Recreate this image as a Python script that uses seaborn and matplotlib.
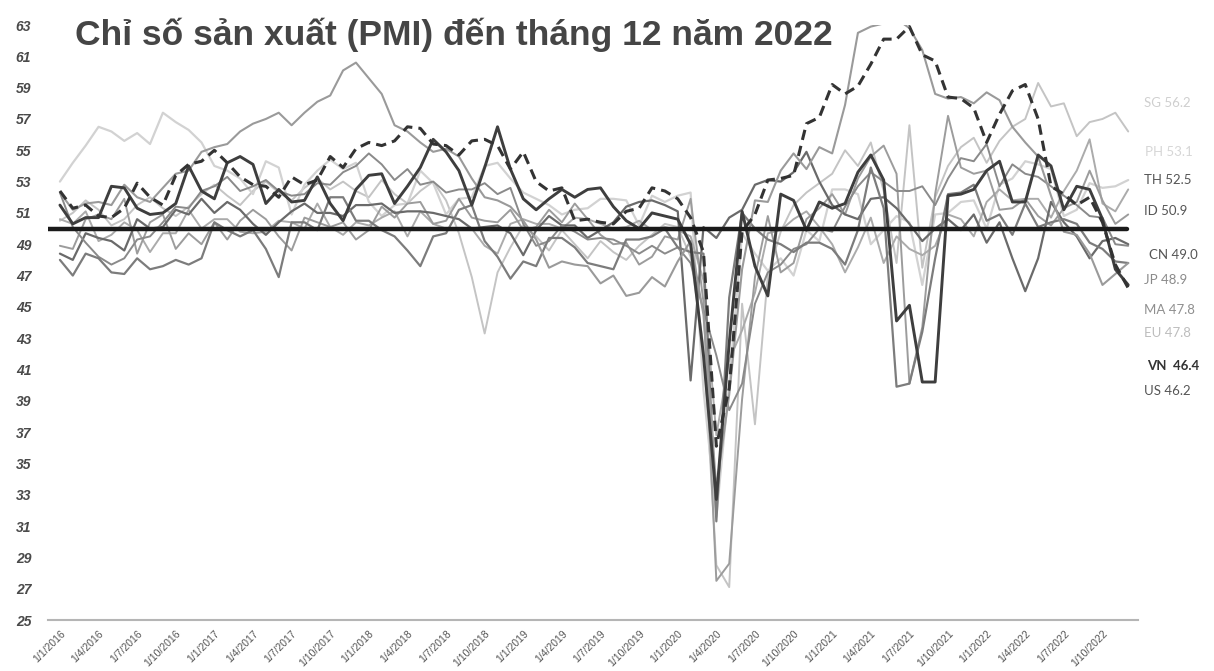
# PMI chart - manufacturing PMI to Dec 2022, monthly 2016-2022
import numpy as np
import pandas as pd
import matplotlib
matplotlib.use("Agg")
import matplotlib.pyplot as plt
import seaborn as sns

sns.set_theme(style="white")
plt.rcParams['font.family'] = ['Liberation Sans', 'DejaVu Sans']

################################################################################
### data (monthly, Jan 2016 .. Dec 2022)
################################################################################
months = pd.date_range("2016-01-01", "2022-12-01", freq="MS")
tick_labels = ["1/%d/%d" % (m, y) for y in range(2016, 2023) for m in (1, 4, 7, 10)]

sg = [50.5, 51.0, 51.8, 51.2, 50.2, 50.6, 51.5, 52.0, 51.3, 50.8, 51.4, 52.2,
      52.8, 52.1, 51.5, 52.4, 53.0, 52.3, 51.8, 52.6, 53.2, 52.5, 53.0, 52.4,
      52.0, 53.1, 52.2, 51.6, 52.4, 53.0, 51.8, 49.7, 46.9, 43.3, 47.2, 48.8,
      50.2, 49.5, 48.6, 49.9, 49.0, 48.1, 49.2, 48.5, 48.0, 48.9, 49.6, 50.3,
      50.1, 48.2, 42.5, 28.5, 27.1, 45.2, 37.5, 47.0, 49.8, 51.5, 52.3, 52.9,
      53.5, 55.0, 54.0, 55.5, 52.4, 47.8, 56.6, 47.5, 52.0, 54.0, 55.2, 55.8,
      54.2, 55.6, 56.5, 57.0, 59.3, 57.8, 58.0, 55.9, 56.8, 57.0, 57.4, 56.2]
ph = [53.0, 54.2, 55.3, 56.5, 56.2, 55.6, 56.1, 55.4, 57.4, 56.8, 56.3, 55.5,
      54.0, 53.7, 53.2, 52.2, 54.3, 53.9, 50.9, 52.8, 53.7, 54.4, 53.8, 54.2,
      51.7, 50.8, 51.5, 51.6, 53.7, 52.9, 50.9, 51.9, 52.0, 54.0, 54.2, 53.2,
      52.3, 51.9, 51.5, 50.9, 51.2, 51.3, 51.9, 51.9, 51.8, 50.2, 52.1, 51.7,
      52.1, 52.3, 39.7, 31.6, 40.1, 49.7, 48.4, 47.3, 48.1, 47.0, 49.9, 49.2,
      52.5, 52.5, 52.2, 49.0, 49.9, 50.8, 50.4, 46.4, 50.9, 51.0, 51.7, 51.8,
      50.0, 52.8, 53.2, 54.3, 54.1, 53.8, 50.8, 51.2, 52.9, 52.6, 52.7, 53.1]
th = [50.6, 50.3, 51.1, 49.2, 49.6, 50.4, 49.9, 48.5, 49.7, 49.7, 51.2, 50.0,
      50.6, 50.6, 49.8, 49.7, 49.8, 50.5, 50.4, 50.0, 51.6, 50.1, 49.6, 50.4,
      50.2, 50.7, 51.1, 49.5, 51.1, 50.3, 50.0, 50.0, 50.0, 48.9, 48.4, 50.3,
      50.6, 50.3, 50.3, 50.0, 50.7, 50.6, 50.3, 50.0, 50.1, 50.5, 49.9, 50.1,
      49.9, 49.5, 46.7, 36.8, 41.6, 43.5, 45.9, 49.7, 49.9, 50.6, 51.1, 50.1,
      49.0, 47.2, 48.8, 50.7, 47.8, 49.5, 48.7, 48.3, 48.9, 50.9, 50.6, 49.5,
      51.7, 52.5, 51.8, 51.9, 51.9, 50.7, 52.4, 53.7, 55.7, 51.6, 51.1, 52.5]
id_ = [48.9, 48.7, 50.6, 50.9, 50.6, 51.9, 48.4, 50.4, 50.9, 48.7, 49.7, 49.0,
       50.4, 49.3, 50.5, 51.2, 50.6, 49.5, 48.6, 50.7, 50.4, 50.1, 50.4, 49.3,
       49.9, 51.4, 50.7, 51.6, 51.7, 50.3, 50.5, 51.9, 50.7, 50.5, 50.4, 51.2,
       49.9, 50.1, 51.2, 50.4, 51.6, 50.6, 49.6, 49.0, 49.1, 47.7, 48.2, 49.5,
       49.3, 51.9, 45.3, 27.5, 28.6, 39.1, 46.9, 50.8, 47.2, 47.8, 50.6, 51.3,
       52.2, 50.9, 53.2, 54.6, 55.3, 53.5, 40.1, 43.7, 52.2, 57.2, 53.9, 53.5,
       53.7, 51.2, 51.3, 51.9, 50.8, 50.2, 51.3, 51.7, 53.7, 51.8, 50.3, 50.9]
cn = [48.4, 48.0, 49.7, 49.4, 49.2, 48.6, 50.6, 50.0, 50.1, 51.2, 50.9, 51.9,
      51.0, 51.7, 51.2, 50.3, 49.6, 50.4, 51.1, 51.6, 51.0, 51.0, 50.8, 51.5,
      51.5, 51.6, 51.0, 51.1, 51.1, 51.0, 50.8, 50.6, 50.0, 50.1, 50.2, 49.7,
      48.3, 49.9, 50.8, 50.2, 50.2, 49.4, 49.9, 50.4, 51.4, 51.7, 51.8, 51.5,
      51.1, 40.3, 50.1, 49.4, 50.7, 51.2, 52.8, 53.1, 53.0, 53.6, 54.9, 53.0,
      51.5, 50.9, 50.6, 51.9, 52.0, 51.3, 50.3, 49.2, 50.0, 50.6, 49.9, 50.9,
      49.1, 50.4, 48.1, 46.0, 48.1, 51.7, 50.4, 49.5, 48.1, 49.2, 49.4, 49.0]
jp = [52.3, 50.1, 49.1, 48.2, 47.7, 48.1, 49.3, 49.5, 50.4, 51.4, 51.3, 52.4,
      52.7, 53.3, 52.4, 52.7, 53.1, 52.4, 52.1, 52.2, 52.9, 52.8, 53.6, 54.0,
      54.8, 54.1, 53.1, 53.8, 52.8, 53.0, 52.3, 52.5, 52.5, 52.9, 52.2, 52.6,
      50.3, 48.9, 49.2, 50.2, 49.8, 49.3, 49.4, 49.3, 48.9, 48.4, 48.9, 48.4,
      48.8, 47.8, 44.8, 41.9, 38.4, 40.1, 45.2, 47.2, 47.7, 48.7, 49.0, 50.0,
      49.8, 51.4, 52.7, 53.6, 53.0, 52.4, 52.4, 52.7, 51.5, 53.2, 54.5, 54.3,
      55.4, 52.7, 54.1, 53.5, 53.3, 52.7, 52.1, 51.5, 50.8, 50.7, 49.0, 48.9]
ma = [48.0, 47.0, 48.4, 48.1, 47.2, 47.1, 48.1, 47.4, 47.6, 48.0, 47.7, 48.1,
      50.4, 49.9, 49.5, 49.9, 48.7, 46.9, 50.4, 50.4, 49.9, 52.0, 52.0, 50.5,
      50.5, 49.9, 49.5, 48.6, 47.6, 49.5, 49.7, 51.2, 51.5, 49.2, 48.2, 46.8,
      47.9, 47.6, 49.4, 49.4, 48.8, 47.8, 47.6, 47.4, 49.3, 49.3, 49.5, 50.0,
      48.8, 48.5, 48.4, 31.3, 45.6, 51.0, 50.0, 49.3, 49.0, 48.5, 49.1, 49.1,
      48.7, 47.7, 49.9, 53.9, 51.3, 39.9, 40.1, 43.4, 48.1, 52.2, 52.3, 52.8,
      50.5, 50.9, 49.6, 51.6, 50.1, 50.4, 50.6, 50.3, 49.1, 48.7, 47.9, 47.8]
eu = [52.3, 51.2, 51.6, 51.7, 51.5, 52.8, 52.0, 51.7, 52.6, 53.5, 53.7, 54.9,
      55.2, 55.4, 56.2, 56.7, 57.0, 57.4, 56.6, 57.4, 58.1, 58.5, 60.1, 60.6,
      59.6, 58.6, 56.6, 56.2, 55.5, 54.9, 55.1, 54.6, 53.2, 52.0, 51.8, 51.4,
      50.5, 49.3, 47.5, 47.9, 47.7, 47.6, 46.5, 47.0, 45.7, 45.9, 46.9, 46.3,
      47.9, 49.2, 44.5, 33.4, 39.4, 47.4, 51.8, 51.7, 53.7, 54.8, 53.8, 55.2,
      54.8, 57.9, 62.5, 62.9, 63.1, 63.4, 62.8, 61.4, 58.6, 58.3, 58.4, 58.0,
      58.7, 58.2, 56.5, 55.5, 54.6, 52.1, 49.8, 49.6, 48.4, 46.4, 47.1, 47.8]
vn = [51.5, 50.3, 50.7, 50.7, 52.7, 52.6, 51.3, 50.9, 51.0, 51.6, 54.0, 52.4,
      51.9, 54.2, 54.6, 54.1, 51.6, 52.5, 51.7, 51.8, 53.3, 51.6, 50.5, 52.5,
      53.4, 53.5, 51.6, 52.7, 53.9, 55.7, 54.9, 53.7, 51.5, 53.9, 56.5, 53.8,
      51.9, 51.2, 51.9, 52.5, 52.0, 52.5, 52.6, 51.4, 50.5, 50.0, 51.0, 50.8,
      50.6, 49.0, 41.9, 32.7, 42.7, 51.1, 47.6, 45.7, 52.2, 51.8, 49.9, 51.7,
      51.3, 51.6, 53.6, 54.7, 53.1, 44.1, 45.1, 40.2, 40.2, 52.1, 52.2, 52.5,
      53.7, 54.3, 51.7, 51.7, 54.7, 54.0, 51.2, 52.7, 52.5, 50.6, 47.4, 46.4]
us = [52.4, 51.3, 51.5, 50.8, 50.7, 51.3, 52.9, 52.0, 51.5, 53.4, 54.1, 54.3,
      55.0, 54.2, 53.3, 52.8, 52.7, 52.0, 53.3, 52.8, 53.1, 54.6, 53.9, 55.1,
      55.5, 55.3, 55.6, 56.5, 56.4, 55.4, 55.3, 54.7, 55.6, 55.7, 55.3, 53.8,
      54.9, 53.0, 52.4, 52.6, 50.5, 50.6, 50.4, 50.3, 51.1, 51.3, 52.6, 52.4,
      51.9, 50.7, 48.5, 36.1, 39.8, 49.8, 50.9, 53.1, 53.2, 53.4, 56.7, 57.1,
      59.2, 58.6, 59.1, 60.5, 62.1, 62.1, 62.9, 61.1, 60.7, 58.4, 58.3, 57.7,
      55.5, 57.3, 58.8, 59.2, 57.0, 52.7, 52.2, 51.5, 52.0, 50.4, 47.7, 46.2]

countries = ["SG", "PH", "TH", "ID", "CN", "JP", "MA", "EU", "VN", "US"]
series = [sg, ph, th, id_, cn, jp, ma, eu, vn, us]

# styling
line_col = {"SG": "#c4c4c4", "PH": "#d2d2d2", "TH": "#ababab", "ID": "#9c9c9c",
            "CN": "#6a6a6a", "JP": "#8a8a8a", "MA": "#7c7c7c", "EU": "#9a9a9a",
            "VN": "#3e3e3e", "US": "#333333"}
line_w = {"SG": 1.4, "PH": 1.6, "TH": 1.4, "ID": 1.4, "CN": 1.6, "JP": 1.4,
          "MA": 1.6, "EU": 1.5, "VN": 2.1, "US": 2.2}
dash = {c: "" for c in countries}
dash["US"] = (3.4, 2.0)

# right hand labels: text, y position, colour, weight
lab_txt = ["SG 56.2", "PH 53.1", "TH 52.5", "ID 50.9", "CN 49.0",
           "JP 48.9", "MA 47.8", "EU 47.8", "VN  46.4", "US 46.2"]
lab_y = [58.0, 54.9, 53.1, 51.1, 48.3, 46.7, 44.8, 43.3, 41.2, 39.6]
lab_x = [84.2, 84.3, 84.2, 84.2, 84.6, 84.2, 84.2, 84.2, 84.5, 84.2]
lab_col = ["#cfcfcf", "#d6d6d6", "#555555", "#555555", "#555555",
           "#8a8a8a", "#8f8f8f", "#bdbdbd", "#333333", "#555555"]
lab_bold = [False, False, False, False, False, False, False, False, True, False]

rows = []
for c, s in zip(countries, series):
    for i, v in enumerate(s):
        rows.append((c, i, v))
df = pd.DataFrame(rows, columns=["country", "m", "pmi"])

################################################################################
### plot
################################################################################
fig = plt.figure(figsize=(12.14, 6.71), dpi=100)
ax = fig.add_axes([0.0395, 0.076, 0.8979, 0.8867])

sns.lineplot(data=df, x="m", y="pmi", hue="country", style="country",
             size="country", palette=line_col, dashes=dash, sizes=line_w,
             hue_order=countries, style_order=countries, size_order=countries,
             legend=False, ax=ax)

ax.axhline(50, xmin=0.0, xmax=0.99, color="#1a1a1a", lw=3.2, zorder=5)

ax.set_xlim(-0.93, 83.76)
ax.set_ylim(25, 63)
ax.set_yticks(np.arange(25, 64, 2))
ax.set_yticklabels([str(v) for v in range(25, 64, 2)], fontstyle="italic",
                   fontweight="bold", color="#4a4a4a", fontsize=10)
ax.tick_params(axis="y", length=0, pad=12)

ax.set_xticks(np.arange(0, 84, 3))
ax.set_xticklabels(tick_labels, rotation=45, ha="right",
                   rotation_mode="anchor", fontsize=7.5, color="#555555")
ax.tick_params(axis="x", length=3, color="#aaaaaa", width=1, pad=3)
ax.set_xlabel("")
ax.set_ylabel("")

for sp in ["top", "right", "left"]:
    ax.spines[sp].set_visible(False)
ax.spines["bottom"].set_color("#b5b5b5")
ax.spines["bottom"].set_linewidth(1.5)

ax.text(1.2, 62.35, "Chỉ số sản xuất (PMI) đến tháng 12 năm 2022",
        fontsize=25.5, fontweight="bold", color="#454545", va="center")

for t, x, y, c, b in zip(lab_txt, lab_x, lab_y, lab_col, lab_bold):
    ax.text(x, y, t, fontsize=9.5, color=c, va="center", clip_on=False,
            fontweight="bold" if b else "normal", family=["Lato", "DejaVu Sans"])

plt.savefig("out.png", dpi=100)
